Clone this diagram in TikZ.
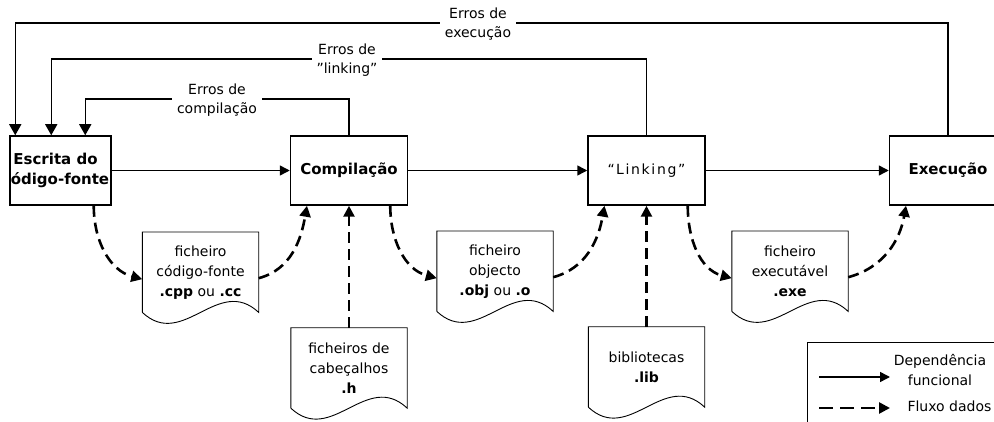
\documentclass[tikz,border=0pt]{standalone}
\usepackage{fontspec}
\setmainfont{DejaVu Sans}
\newfontfamily\spacedfont[LetterSpace=12]{DejaVu Sans}
\usetikzlibrary{arrows.meta,positioning,calc}

% outline of a document: straight top and sides, wavy bottom
\newcommand{\docoutline}[1]{%
  \draw[docline] (#1.south west) -- (#1.north west) -- (#1.north east) -- (#1.south east)
    .. controls ($(#1.south west)!0.65!(#1.south east)+(0,38)$)
    and ($(#1.south west)!0.35!(#1.south east)+(0,-38)$) .. (#1.south west);}

\begin{document}
\begin{tikzpicture}[x=1pt, y=1pt,
  stage/.style={draw, line width=1.5pt, minimum width=117pt, minimum height=69pt,
    inner sep=2pt, align=center, font=\fontsize{15}{20}\selectfont\bfseries},
  docnode/.style={minimum width=116pt, minimum height=80pt, anchor=north,
    align=center, inner sep=2pt, font=\fontsize{14}{20}\selectfont},
  docline/.style={line width=0.9pt, line join=miter},
  errlabel/.style={fill=white, align=center, inner xsep=5pt, inner ysep=1pt,
    font=\fontsize{14}{19}\selectfont},
  plain/.style={font=\fontsize{14}{20}\selectfont, align=center},
  dep/.style={line width=1.5pt, -{Triangle[length=10pt,width=10pt]}},
  feed/.style={line width=1.5pt, -{Triangle[length=11pt,width=12pt]}},
  flow/.style={line width=2.6pt, dash pattern=on 11pt off 6pt,
    -{Triangle[length=11pt,width=11pt]}},
]
  \useasboundingbox (0,0) rectangle (994,421);
  \clip (0,0) rectangle (994,421);

  % stages
  \node[stage, minimum width=101pt] (esc) at (60.5,250.5) {};
  \begin{scope}
    \clip (esc.south west) rectangle (esc.north east);
    \node[plain, font=\fontsize{15}{20}\selectfont\bfseries] (esctext)
      at ([xshift=-5pt]esc.center) {Escrita do\\código-fonte};
  \end{scope}
  \node[stage, right=178pt of esc] (comp) {Compilação};
  \node[stage, right=179pt of comp] (link) {\normalfont\fontsize{14}{19}\selectfont\spacedfont “Linking”};
  \node[stage, right=183pt of link] (exec) {Execução};

  % files
  \node[docnode] (src) at (200.5,189) {ficheiro\\código-fonte\\\textbf{.cpp} ou \textbf{.cc}};
  \node[docnode, below=122pt of comp] (hdr) {ficheiros de\\cabeçalhos\\\textbf{.h}};
  \node[docnode] (obj) at (495,190) {ficheiro\\objecto\\\textbf{.obj} ou \textbf{.o}};
  \node[docnode, below=121pt of link] (lib) {bibliotecas\\\textbf{.lib}};
  \node[docnode] (exe) at (790,190) {ficheiro\\executável\\\textbf{.exe}};
  \foreach \d in {src,hdr,obj,lib,exe} {\docoutline{\d}}

  % functional dependencies
  \draw[dep] (esc) -- (comp);
  \draw[dep] (comp) -- (link);
  \draw[dep] (link) -- (exec);

  % error feedback
  \draw[feed] (comp.north) -- ++(0,36) -| ([xshift=76pt]esc.north west);
  \draw[feed] (link.north) -- ++(0,76) -| ([xshift=42pt]esc.north west);
  \draw[feed] (exec.north) -- ++(0,112) -| ([xshift=6pt]esc.north west);
  \node[errlabel] (errcomp) at (217,321) {Erros de\\compilação};
  \node[errlabel] (errlink) at (347,361) {Erros de\\”linking”};
  \node[errlabel] (errexec) at (478,397) {Erros de\\execução};

  % data flow
  \draw[flow] ([xshift=-18pt]esc.south east) to[out=-90,in=165] ([yshift=-7pt]src.west);
  \draw[flow] ([yshift=-6pt]src.east) to[out=15,in=-100] ([xshift=-42pt]comp.south);
  \draw[flow] (hdr.north) -- (comp.south);
  \draw[flow] ([xshift=-18pt]comp.south east) to[out=-90,in=165] ([yshift=-7pt]obj.west);
  \draw[flow] ([yshift=-6pt]obj.east) to[out=15,in=-100] ([xshift=-42pt]link.south);
  \draw[flow] (lib.north) -- (link.south);
  \draw[flow] ([xshift=-18pt]link.south east) to[out=-90,in=165] ([yshift=-7pt]exe.west);
  \draw[flow] ([yshift=-6pt]exe.east) to[out=15,in=-100] ([xshift=-42pt]exec.south);

  % legend
  \node[draw, line width=0.9pt, anchor=north west, minimum width=200pt,
    minimum height=100pt] (legend) at (807,79) {};
  \coordinate (depA) at (819,44);
  \coordinate (depB) at (890,44);
  \draw[dep] (depA) -- (depB);
  \node[plain] (deptext) at (940,51) {Dependência\\funcional};
  \coordinate (flowA) at (819,13);
  \coordinate (flowB) at (890,13);
  \draw[flow, dash pattern=on 14pt off 7pt] (flowA) -- (flowB);
  \node[plain, anchor=west] (flowtext) at (904,15) {Fluxo dados};
\end{tikzpicture}
\end{document}
